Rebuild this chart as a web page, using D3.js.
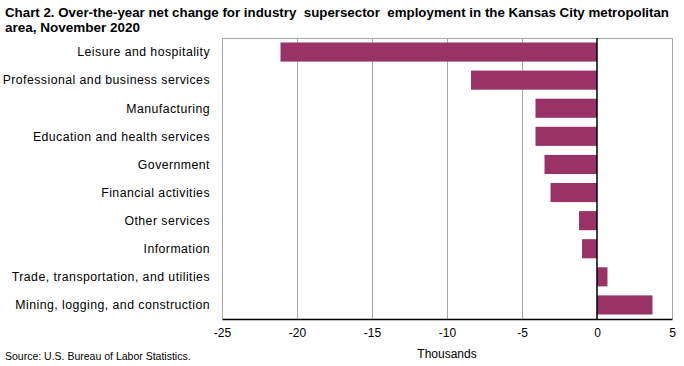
<!DOCTYPE html>
<html><head><meta charset="utf-8">
<script src="https://cdn.jsdelivr.net/npm/d3@7/dist/d3.min.js"></script>
<style>
body{margin:0;background:#fff;}
svg{display:block;}
</style></head>
<body><svg id="c" width="684" height="366"></svg>
<script>
const categories = ["Leisure and hospitality","Professional and business services","Manufacturing","Education and health services","Government","Financial activities","Other services","Information","Trade, transportation, and utilities","Mining, logging, and construction"];
const values = [-21.1,-8.4,-4.1,-4.1,-3.5,-3.1,-1.2,-1.0,0.7,3.7];
const xTicks = [-25,-20,-15,-10,-5,0,5];
const titleLines = ["Chart 2. Over-the-year net change for industry  supersector  employment in the Kansas City metropolitan","area, November 2020"];

const svg = d3.select("#c");
const m = {l:222, r:672, t:38, b:319};
const x = d3.scaleLinear().domain([-25,5]).range([m.l,m.r]);
const y = d3.scaleBand().domain(categories).range([m.t,m.b]).paddingInner(0.32).paddingOuter(0.16);
const font = "Arial, 'Liberation Sans', sans-serif";

// title
svg.append("g").selectAll("text").data(titleLines).join("text")
  .attr("x",5).attr("y",(d,i)=>17+i*15)
  .style("white-space","pre")
  .attr("font-family","'Liberation Sans Narrow', 'Arial Narrow', Arial, sans-serif")
  .attr("font-weight","bold").attr("font-size",13.5).attr("fill","#000")
  .attr("textLength",(d,i)=>i===0?664:null)
  .attr("lengthAdjust","spacingAndGlyphs")
  .text(d=>d);

// gridlines
svg.append("g").selectAll("line").data(xTicks.filter(d=>d!==0)).join("line")
  .attr("x1",d=>x(d)).attr("x2",d=>x(d)).attr("y1",m.t).attr("y2",m.b)
  .attr("stroke","#a6a6a6").attr("stroke-width",1).attr("shape-rendering","crispEdges");
// top border
svg.append("line").attr("x1",m.l).attr("x2",m.r).attr("y1",m.t).attr("y2",m.t)
  .attr("stroke","#a6a6a6").attr("shape-rendering","crispEdges");

// bars
svg.append("g").selectAll("rect").data(values).join("rect")
  .attr("x",(d)=>x(Math.min(0,d))).attr("width",d=>Math.abs(x(d)-x(0)))
  .attr("y",(d,i)=>y(categories[i])).attr("height",y.bandwidth())
  .attr("fill","#993366");

// zero line
svg.append("line").attr("x1",x(0)).attr("x2",x(0)).attr("y1",m.t).attr("y2",m.b)
  .attr("stroke","#000").attr("stroke-width",1.5);

// x axis
const xa = svg.append("g").attr("transform",`translate(0,${m.b})`)
  .call(d3.axisBottom(x).tickValues(xTicks).tickSize(0).tickPadding(9).tickFormat(d=>String(d)));
xa.select(".domain").attr("stroke","#000").attr("stroke-width",1.5);
xa.selectAll("text").attr("font-family",font).attr("font-size",12).attr("fill","#000");

// y labels
svg.append("g").selectAll("text").data(categories).join("text")
  .attr("x",210).attr("y",d=>y(d)+y.bandwidth()/2).attr("dy","0.35em")
  .attr("text-anchor","end").attr("font-family",font).attr("font-size",12.3)
  .attr("letter-spacing",0.45).attr("fill","#000")
  .text(d=>d);

// x title
svg.append("text").attr("x",x(-10)).attr("y",358).attr("text-anchor","middle")
  .attr("font-family",font).attr("font-size",12).text("Thousands");

// source
svg.append("text").attr("x",5).attr("y",360)
  .attr("font-family",font).attr("font-size",10.5).text("Source: U.S. Bureau of Labor Statistics.");
</script></body></html>
